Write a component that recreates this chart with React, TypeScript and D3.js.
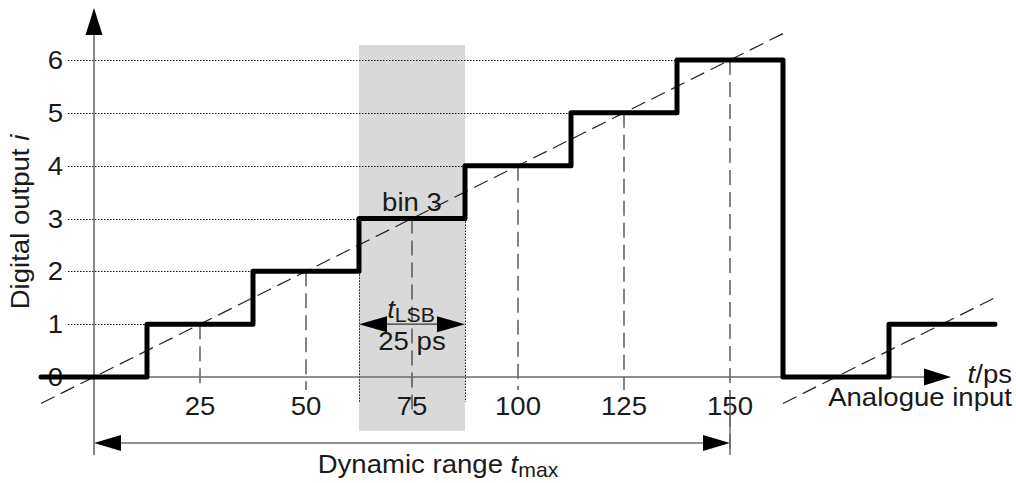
import React from 'react';
import * as d3 from 'd3';

// staircase transfer characteristic: (t, code) points, step-after
const stairT = [-12.5, 12.5, 37.5, 62.5, 87.5, 112.5, 137.5, 162.5, 187.5, 212.5];
const stairCode = [0, 1, 2, 3, 4, 5, 6, 0, 1, 1];
// ideal (dashed) transfer lines: code = (t - offset) / lsb
const idealFrom = [-12.5, 162.5];
const idealTo = [162.5, 212.5];
const idealOffset = [0, 175];
const lsb = 25;
const xTicks = [25, 50, 75, 100, 125, 150];
const yTicks = [0, 1, 2, 3, 4, 5, 6];
const highlightBin = 3;
const tMax = 150;

const FONT = '"Liberation Sans", Arial, Helvetica, sans-serif';
const SX = 1.06;
const AXIS = '#6a6a6a';

function arrow(tipX: number, tipY: number, dir: 'up' | 'right' | 'left', len = 27, hw = 8.5) {
  if (dir === 'up') return `M${tipX},${tipY}L${tipX - hw},${tipY + len}L${tipX + hw},${tipY + len}Z`;
  if (dir === 'right') return `M${tipX},${tipY}L${tipX - len},${tipY - hw}L${tipX - len},${tipY + hw}Z`;
  return `M${tipX},${tipY}L${tipX + len},${tipY - hw}L${tipX + len},${tipY + hw}Z`;
}

function T({ x, y, anchor = 'middle', size = 26, rotate = 0, children }: any) {
  return (
    <text
      transform={`translate(${x},${y}) rotate(${rotate}) scale(${SX},1)`}
      textAnchor={anchor}
      fontFamily={FONT}
      fontSize={size}
      fill="#1a1a1a"
    >
      {children}
    </text>
  );
}

export default function App() {
  const width = 1016;
  const height = 483;
  const x = d3.scaleLinear().domain([0, 150]).range([94, 730]);
  const y = d3.scaleLinear().domain([0, 6]).range([377, 60]);
  const crisp = (v: number) => Math.round(v) + 0.5;

  const stairPts: [number, number][] = stairT.map((t, i) => [t, stairCode[i]]);
  const stairLine = d3.line<[number, number]>()
    .x(d => x(d[0]))
    .y(d => y(d[1]))
    .curve(d3.curveStepAfter);

  const binL = lsb * highlightBin - lsb / 2;
  const binR = lsb * highlightBin + lsb / 2;
  const arrowY = y(1);
  const rangeY = 443;

  return (
    <svg width={width} height={height} style={{ position: 'absolute', left: 0, top: 0, background: '#fff' }}>
      {/* highlighted bin */}
      <rect x={x(binL)} y={45} width={x(binR) - x(binL)} height={431 - 45} fill="#d9d9d9" />
      <line x1={crisp(x(binL))} x2={crisp(x(binL))} y1={y(highlightBin - 1)} y2={402} stroke="#111" strokeWidth={1} strokeDasharray="1.5 1.5" />
      <line x1={crisp(x(binR))} x2={crisp(x(binR))} y1={y(highlightBin)} y2={402} stroke="#111" strokeWidth={1} strokeDasharray="1.5 1.5" />

      {/* dotted level lines */}
      {yTicks.filter(v => v > 0).map(v => (
        <line key={'g' + v} x1={68} x2={x(lsb * v - lsb / 2)} y1={crisp(y(v))} y2={crisp(y(v))}
          stroke="#111" strokeWidth={1} strokeDasharray="1.5 1.5" />
      ))}

      {/* dashed verticals at bin centres */}
      {xTicks.map(v => (
        <line key={'v' + v} x1={x(v)} x2={x(v)} y1={y(v / lsb)}
          y2={v === tMax ? 455 : v === lsb * highlightBin ? 410 : 390}
          stroke="#333" strokeWidth={1.2} strokeDasharray="15 7" />
      ))}

      {/* axes */}
      <line x1={94} x2={94} y1={455} y2={34} stroke={AXIS} strokeWidth={1.6} />
      <path d={arrow(94, 8, 'up')} fill="#000" />
      <line x1={94} x2={926} y1={y(0)} y2={y(0)} stroke={AXIS} strokeWidth={1.6} />
      <path d={arrow(951, y(0), 'right')} fill="#000" />

      {/* ideal lines */}
      {idealFrom.map((f, i) => (
        <line key={'i' + i} x1={x(f)} y1={y((f - idealOffset[i]) / lsb)}
          x2={x(idealTo[i])} y2={y((idealTo[i] - idealOffset[i]) / lsb)}
          stroke="#222" strokeWidth={1.2} strokeDasharray="15 7" />
      ))}

      {/* tick labels */}
      {yTicks.map(v => (
        <T key={'yl' + v} x={63} y={y(v) + 9} anchor="end">{v}</T>
      ))}
      {xTicks.map(v => (
        <T key={'xl' + v} x={x(v)} y={415}>{v}</T>
      ))}

      {/* staircase */}
      <path d={stairLine(stairPts) || ''} fill="none" stroke="#000" strokeWidth={5}
        strokeLinejoin="round" strokeLinecap="round" />

      {/* bin label and LSB arrow */}
      <T x={x(lsb * highlightBin)} y={211}>bin {highlightBin}</T>
      <line x1={x(binL) + 20} x2={x(binR) - 20} y1={arrowY} y2={arrowY} stroke="#333" strokeWidth={1.4} />
      <path d={arrow(x(binL), arrowY, 'left', 28, 8)} fill="#000" />
      <path d={arrow(x(binR), arrowY, 'right', 28, 8)} fill="#000" />
      <T x={x(lsb * highlightBin) - 1} y={318}>
        <tspan fontStyle="italic">t</tspan>
        <tspan fontSize={20} dy={4}>LSB</tspan>
      </T>
      <T x={x(lsb * highlightBin)} y={350}>{lsb} ps</T>

      {/* axis titles */}
      <T x={1012} y={383} anchor="end">
        <tspan fontStyle="italic">t</tspan>/ps
      </T>
      <T x={1012} y={406} anchor="end">Analogue input</T>
      <T x={29} y={222} rotate={-90}>
        Digital output <tspan fontStyle="italic">i</tspan>
      </T>

      {/* dynamic range */}
      <line x1={x(tMax)} x2={x(tMax)} y1={400} y2={455} stroke={AXIS} strokeWidth={1.4} />
      <line x1={x(0) + 20} x2={x(tMax) - 20} y1={rangeY} y2={rangeY} stroke={AXIS} strokeWidth={1.4} />
      <path d={arrow(x(0), rangeY, 'left', 27, 8)} fill="#000" />
      <path d={arrow(x(tMax), rangeY, 'right', 27, 8)} fill="#000" />
      <T x={438} y={473}>
        Dynamic range <tspan fontStyle="italic">t</tspan>
        <tspan fontSize={20} dy={4}>max</tspan>
      </T>
    </svg>
  );
}
